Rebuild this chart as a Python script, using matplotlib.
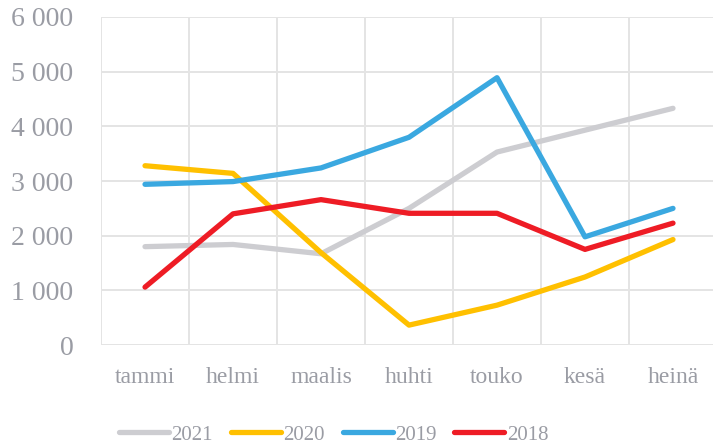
import matplotlib
matplotlib.use("Agg")
import matplotlib.pyplot as plt
from matplotlib.ticker import FuncFormatter

months = ["tammi", "helmi", "maalis", "huhti", "touko", "kesä", "heinä"]
y2021 = [1800, 1840, 1670, 2500, 3530, 3930, 4330]
y2020 = [3280, 3140, 1690, 365, 730, 1245, 1930]
y2019 = [2940, 2990, 3240, 3800, 4890, 1980, 2500]
y2018 = [1060, 2400, 2660, 2410, 2410, 1750, 2230]

series = [("2021", y2021, "#cdcdd1"), ("2020", y2020, "#ffc000"),
          ("2019", y2019, "#3aa8e0"), ("2018", y2018, "#ee1c25")]

TXT = "#9a9ca4"
plt.rcParams["font.family"] = ["Liberation Serif", "DejaVu Serif"]

fig = plt.figure(figsize=(7.13, 4.47), dpi=100)
ax = fig.add_axes([0.1417, 0.228, 0.8639, 0.734])

x = range(len(months))
for name, ys, col in series:
    ax.plot(x, ys, color=col, lw=3.8, solid_capstyle="round",
            solid_joinstyle="round", label=name, zorder=3)

ax.set_xlim(-0.5, 6.5)
ax.set_ylim(0, 6000)
ax.set_yticks(range(0, 6001, 1000))
ax.yaxis.set_major_formatter(FuncFormatter(lambda v, p: f"{int(v):,}".replace(",", " ")))
ax.set_xticks(list(x))
ax.set_xticklabels(months)
ax.set_xticks([i - 0.5 for i in range(8)], minor=True)
ax.grid(True, which="minor", axis="x", color="#e4e4e4", lw=1.4)
ax.grid(True, which="major", axis="y", color="#e4e4e4", lw=1.4)
for s in ax.spines.values():
    s.set_visible(False)
ax.tick_params(which="both", length=0, colors=TXT)
ax.tick_params(axis="y", pad=20, labelsize=20)
ax.tick_params(axis="x", pad=16, labelsize=17)
for lab in ax.get_yticklabels():
    lab.set_horizontalalignment("right")

leg = fig.legend(loc="center", bbox_to_anchor=(0.468, 0.027), ncol=4, frameon=False,
                 fontsize=15, labelcolor=TXT, handlelength=2.4, handletextpad=0.12,
                 columnspacing=0.85)

fig.savefig("out.png", dpi=100)
